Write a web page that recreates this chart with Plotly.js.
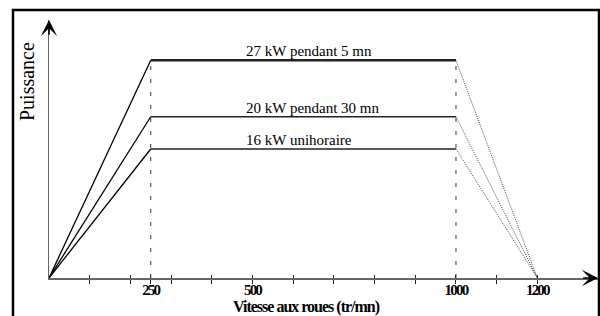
<!DOCTYPE html>
<html>
<head>
<meta charset="utf-8">
<script src="https://cdn.plot.ly/plotly-3.0.1.min.js"></script>
<style>
html,body{margin:0;padding:0;background:#fff;}
#chart{width:600px;height:316px;}
</style>
</head>
<body>
<div id="chart"></div>
<script>
// ---- data ----
const speed = [0, 250, 1000, 1200];            // tr/mn
const power27 = [0, 27, 27, 0];                // kW, 5 mn
const power20 = [0, 20, 20, 0];                // kW, 30 mn
const power16 = [0, 16, 16, 0];                // kW, unihoraire
const seriesLabels = ['27 kW pendant 5 mn', '20 kW pendant 30 mn', '16 kW unihoraire'];
const tickVals = [100, 200, 250, 300, 400, 500, 600, 700, 800, 900, 1000, 1100, 1200];
const tickText = ['', '', '250', '', '', '500', '', '', '', '', '1000', '', '1200'];
const xTitle = 'Vitesse aux roues (tr/mn)';
const yTitle = 'Puissance';

// ---- layout geometry ----
const W = 600, H = 316;
const M = {l: 49, r: 2, t: 20, b: 38};
const pw = W - M.l - M.r, ph = H - M.t - M.b;
const px2paperX = p => (p - M.l) / pw;
const px2paperY = p => (H - M.b - p) / ph;
const xMax = 1349, yMax = 32;

const serif = 'Liberation Serif, Times New Roman, serif';
const sets = [power27, power20, power16];
const flatW = [2.6, 1.4, 1.4];
const traces = [];
sets.forEach((p, i) => {
  traces.push({x: speed.slice(0, 2), y: p.slice(0, 2), mode: 'lines', line: {color: '#000', width: 1.3}, hoverinfo: 'skip', cliponaxis: false});
  traces.push({x: speed.slice(1, 3), y: p.slice(1, 3), mode: 'lines', line: {color: '#222', width: flatW[i]}, hoverinfo: 'skip', cliponaxis: false});
  traces.push({x: speed.slice(2, 4), y: p.slice(2, 4), mode: 'lines', line: {color: '#444', width: 1, dash: '1px,1.2px'}, hoverinfo: 'skip', cliponaxis: false});
});
[speed[1], speed[2]].forEach(v => {
  traces.push({x: [v, v], y: [0, power27[1]], mode: 'lines', line: {color: '#333', width: 1, dash: '4px,9px'}, hoverinfo: 'skip'});
});

const annotations = [];
sets.forEach((p, i) => {
  annotations.push({x: 481, y: p[1], xref: 'x', yref: 'y', xanchor: 'left', yanchor: 'bottom',
    text: seriesLabels[i], showarrow: false,
    font: {family: serif, size: 15, color: '#000'}, yshift: 0, borderpad: 0});
});
annotations.push({x: 0, y: yMax, ax: 0, ay: yMax - 2, xref: 'x', yref: 'y', axref: 'x', ayref: 'y', text: '', showarrow: true,
  arrowhead: 3, arrowsize: 1.7, arrowwidth: 1.6, arrowcolor: '#000'});
annotations.push({x: xMax, y: 0, ax: xMax - 40, ay: 0, xref: 'x', yref: 'y', axref: 'x', ayref: 'y', text: '', showarrow: true,
  arrowhead: 3, arrowsize: 1.7, arrowwidth: 1.6, arrowcolor: '#000'});
annotations.push({x: px2paperX(27), y: px2paperY(82), xref: 'paper', yref: 'paper', xanchor: 'center', yanchor: 'middle',
  text: yTitle, textangle: -90, showarrow: false, font: {family: serif, size: 20, color: '#000'}});
annotations.push({x: px2paperX(306), y: px2paperY(306.5), xref: 'paper', yref: 'paper', xanchor: 'center', yanchor: 'middle',
  text: '<span style="letter-spacing:-1px">' + xTitle + '</span>', showarrow: false, borderpad: 0,
  font: {family: serif, size: 16, color: '#000', weight: 'bold'}});

const layout = {
  width: W, height: H,
  margin: M,
  paper_bgcolor: '#fff', plot_bgcolor: '#fff',
  showlegend: false,
  xaxis: {range: [0, xMax], showgrid: false, zeroline: false, showline: true, linecolor: '#666', linewidth: 1.5,
    tickmode: 'array', tickvals: tickVals, ticktext: tickText.map(t => t ? '<span style="letter-spacing:-1.8px">' + t + '</span>' : ''),
    ticks: 'outside', ticklen: 4, tickwidth: 1, tickcolor: '#222', ticklabelstandoff: -7,
    tickfont: {family: serif, size: 15, color: '#000', weight: 'bold'}, fixedrange: true},
  xaxis2: {range: [0, xMax], overlaying: 'x', anchor: 'y', side: 'bottom', showgrid: false, zeroline: false, showline: false,
    tickmode: 'array', tickvals: tickVals, ticktext: tickVals.map(() => ''), ticks: 'inside', ticklen: 3, tickwidth: 1, tickcolor: '#222'},
  yaxis: {range: [0, yMax], showgrid: false, zeroline: false, showline: true, linecolor: '#666', linewidth: 1.5,
    showticklabels: false, ticks: '', fixedrange: true},
  shapes: [
    {type: 'rect', xref: 'paper', yref: 'paper', x0: px2paperX(13), x1: px2paperX(599), y0: px2paperY(330), y1: px2paperY(10),
      line: {color: '#000', width: 2.5}, fillcolor: 'rgba(0,0,0,0)'}
  ],
  annotations: annotations
};
traces.push({x: [0], y: [0], xaxis: 'x2', yaxis: 'y', mode: 'markers', marker: {opacity: 0}, hoverinfo: 'skip'});

Plotly.newPlot('chart', traces, layout, {staticPlot: true, displayModeBar: false});
</script>
</body>
</html>
